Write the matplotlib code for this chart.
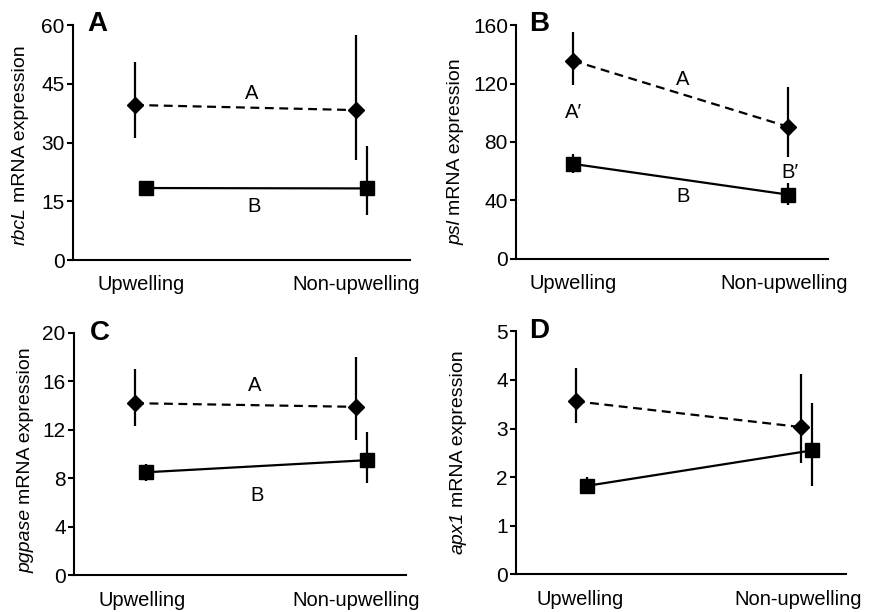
import matplotlib
matplotlib.use("Agg")
import matplotlib.pyplot as plt

plt.rcParams['font.family'] = ['Liberation Sans', 'DejaVu Sans']

# Datos
sitios = ['Upwelling', 'Non-upwelling']

# Panel A: rbcL
rbcl_diamante = [39.6, 38.3]
rbcl_diamante_err_sup = [50.6, 57.4]
rbcl_diamante_err_inf = [31.1, 25.5]
rbcl_cuadro = [18.4, 18.3]
rbcl_cuadro_err_sup = [18.4, 29.2]
rbcl_cuadro_err_inf = [18.4, 11.5]

# Panel B: psl
psl_diamante = [135.6, 90.5]
psl_diamante_err_sup = [155.4, 117.8]
psl_diamante_err_inf = [119.0, 70.0]
psl_cuadro = [65.0, 44.0]
psl_cuadro_err_sup = [72.0, 53.0]
psl_cuadro_err_inf = [59.0, 37.0]

# Panel C: pgpase
pgp_diamante = [14.2, 13.9]
pgp_diamante_err_sup = [17.0, 18.0]
pgp_diamante_err_inf = [12.3, 11.2]
pgp_cuadro = [8.5, 9.5]
pgp_cuadro_err_sup = [9.2, 11.8]
pgp_cuadro_err_inf = [7.8, 7.6]

# Panel D: apx1
apx_diamante = [3.56, 3.03]
apx_diamante_err_sup = [4.25, 4.12]
apx_diamante_err_inf = [3.12, 2.30]
apx_cuadro = [1.82, 2.55]
apx_cuadro_err_sup = [2.0, 3.52]
apx_cuadro_err_inf = [1.65, 1.82]

paneles = [
    {'letra': 'A', 'gen': 'rbcL', 'ylim': 60, 'yticks': [0, 15, 30, 45, 60],
     'd': (rbcl_diamante, rbcl_diamante_err_inf, rbcl_diamante_err_sup),
     'c': (rbcl_cuadro, rbcl_cuadro_err_inf, rbcl_cuadro_err_sup),
     'rect': [0.0837, 0.575, 0.3863, 0.384], 'xlim': (-0.28, 1.244),
     'desfase': 0.05, 'ticks': [0.03, 1.0], 'pos_letra': (0.071, 1.003),
     'pos_ylabel': (29, 245),
     'letras': [('A', 0.53, 42.5), ('B', 0.54, 13.8)]},
    {'letra': 'B', 'gen': 'psl', 'ylim': 160, 'yticks': [0, 40, 80, 120, 160],
     'd': (psl_diamante, psl_diamante_err_inf, psl_diamante_err_sup),
     'c': (psl_cuadro, psl_cuadro_err_inf, psl_cuadro_err_sup),
     'rect': [0.592, 0.577, 0.357, 0.382], 'xlim': (-0.265, 1.185),
     'desfase': 0.0, 'ticks': [0.0, 0.985], 'pos_letra': (0.072, 1.003),
     'pos_ylabel': (464, 245),
     'letras': [('A', 0.51, 123), ('A\u2032', 0.0, 100.5),
                ('B\u2032', 1.01, 58.8), ('B', 0.51, 42.4)]},
    {'letra': 'C', 'gen': 'pgpase', 'ylim': 20, 'yticks': [0, 4, 8, 12, 16, 20],
     'd': (pgp_diamante, pgp_diamante_err_inf, pgp_diamante_err_sup),
     'c': (pgp_cuadro, pgp_cuadro_err_inf, pgp_cuadro_err_sup),
     'rect': [0.0849, 0.060, 0.381, 0.396], 'xlim': (-0.276, 1.226),
     'desfase': 0.05, 'ticks': [0.03, 1.0], 'pos_letra': (0.078, 1.0),
     'pos_ylabel': (34, 573),
     'letras': [('A', 0.54, 15.7), ('B', 0.55, 6.6)]},
    {'letra': 'D', 'gen': 'apx1', 'ylim': 5, 'yticks': [0, 1, 2, 3, 4, 5],
     'd': (apx_diamante, apx_diamante_err_inf, apx_diamante_err_sup),
     'c': (apx_cuadro, apx_cuadro_err_inf, apx_cuadro_err_sup),
     'rect': [0.592, 0.0616, 0.378, 0.397], 'xlim': (-0.264, 1.2),
     'desfase': 0.05, 'ticks': [0.02, 0.99], 'pos_letra': (0.07, 1.0),
     'pos_ylabel': (467, 554),
     'letras': []},
]

ANCHO, ALTO = 872, 612
fig = plt.figure(figsize=(ANCHO / 100, ALTO / 100), dpi=100)

for p in paneles:
    ax = fig.add_axes(p['rect'])
    x = [0, 1]
    xc = [v + p['desfase'] for v in x]

    # Serie con diamantes (linea discontinua)
    val, inf, sup = p['d']
    ax.errorbar(x, val, yerr=[[v - i for v, i in zip(val, inf)],
                              [s - v for v, s in zip(val, sup)]],
                fmt='D', color='black', ms=8, elinewidth=1.6, capsize=0,
                zorder=3)
    ax.plot(x, val, color='black', lw=1.6, ls=(0, (4, 2.5)), zorder=2)

    # Serie con cuadrados (linea continua)
    val, inf, sup = p['c']
    ax.errorbar(xc, val, yerr=[[v - i for v, i in zip(val, inf)],
                               [s - v for v, s in zip(val, sup)]],
                fmt='s', color='black', ms=10.5, elinewidth=1.6, capsize=0,
                zorder=3)
    ax.plot(xc, val, color='black', lw=1.6, zorder=2)

    for texto, tx, ty in p['letras']:
        ax.text(tx, ty, texto, ha='center', va='center', fontsize=14.5,
                zorder=4,
                bbox=dict(facecolor='white', edgecolor='none', pad=0.5))

    ax.set_xlim(p['xlim'])
    ax.set_ylim(0, p['ylim'])
    ax.set_yticks(p['yticks'])
    ax.set_xticks(p['ticks'])
    ax.set_xticklabels(sitios, fontsize=14.5)
    ax.tick_params(axis='x', length=0, pad=11)
    ax.tick_params(axis='y', length=4, width=1.5, labelsize=15, pad=2)
    ax.spines['top'].set_visible(False)
    ax.spines['right'].set_visible(False)
    ax.spines['left'].set_linewidth(1.5)
    ax.spines['bottom'].set_linewidth(1.5)

    # Etiqueta del eje y: nombre del gen en cursiva + resto normal
    lx, ly = p['pos_ylabel']
    t1 = fig.text(lx / ANCHO, 1 - ly / ALTO, p['gen'], rotation=90,
                  fontsize=14, style='italic', ha='right', va='bottom')
    ax.annotate('mRNA expression', xy=(1, 1), xycoords=t1, rotation=90,
                xytext=(0, 3.5), textcoords='offset points',
                fontsize=14, ha='right', va='bottom',
                annotation_clip=False)

    ax.text(p['pos_letra'][0], p['pos_letra'][1], p['letra'],
            transform=ax.transAxes, fontsize=20, fontweight='bold',
            ha='center', va='center')

fig.savefig('out.png', dpi=100)
